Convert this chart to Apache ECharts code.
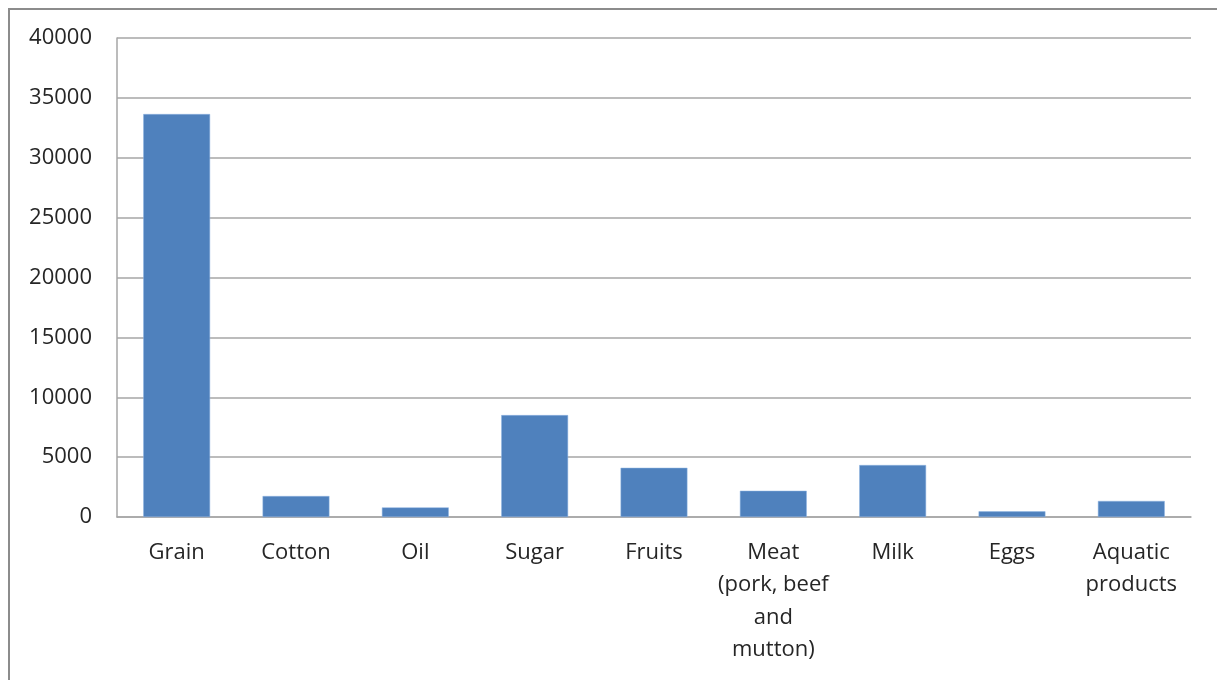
<!DOCTYPE html>
<html>
<head>
<meta charset="utf-8">
<script src="https://cdn.jsdelivr.net/npm/echarts@6/dist/echarts.min.js"></script>
<style>
  html, body { margin: 0; padding: 0; background: #fff; }
  #chart { width: 1217px; height: 680px; }
</style>
</head>
<body>
<div id="chart"></div>
<script>
// categories and values
const categories = [
  'Grain', 'Cotton', 'Oil', 'Sugar', 'Fruits',
  'Meat\n(pork, beef\nand\nmutton)', 'Milk', 'Eggs', 'Aquatic\nproducts'
]
const values = [33650, 1750, 800, 8510, 4110, 2190, 4340, 470, 1340]

const yMin = 0
const yMax = 40000
const yStep = 5000

const chart = echarts.init(document.getElementById('chart'))

chart.setOption({
  animation: false,
  textStyle: { fontFamily: 'Open Sans' },
  graphic: [
    {
      // outer chart frame
      type: 'rect',
      silent: true,
      shape: { x: 9, y: 9, width: 1300, height: 800 },
      style: { fill: 'none', stroke: '#8c8c8c', lineWidth: 2 }
    }
  ],
  grid: {
    left: 117,
    right: 26,
    top: 38,
    bottom: 163,
    containLabel: false
  },
  xAxis: {
    type: 'category',
    data: categories,
    axisLine: { lineStyle: { color: '#a6a6a6', width: 1.5 } },
    axisTick: { show: false },
    axisLabel: {
      interval: 0,
      margin: 19,
      color: '#262626',
      fontSize: 22,
      lineHeight: 32.5,
      align: 'center'
    }
  },
  yAxis: {
    type: 'value',
    min: yMin,
    max: yMax,
    interval: yStep,
    axisLine: { show: true, lineStyle: { color: '#a6a6a6', width: 1.5 } },
    axisTick: { show: false },
    splitLine: { lineStyle: { color: '#a6a6a6', width: 1.5 } },
    axisLabel: {
      margin: 25,
      color: '#262626',
      fontSize: 22,
      formatter: v => String(v)
    }
  },
  series: [
    {
      type: 'bar',
      data: values,
      barWidth: '56%',
      itemStyle: {
        color: '#4f81bd',
        borderColor: '#8eb4e3',
        borderWidth: 0.5
      }
    }
  ]
})
</script>
</body>
</html>
